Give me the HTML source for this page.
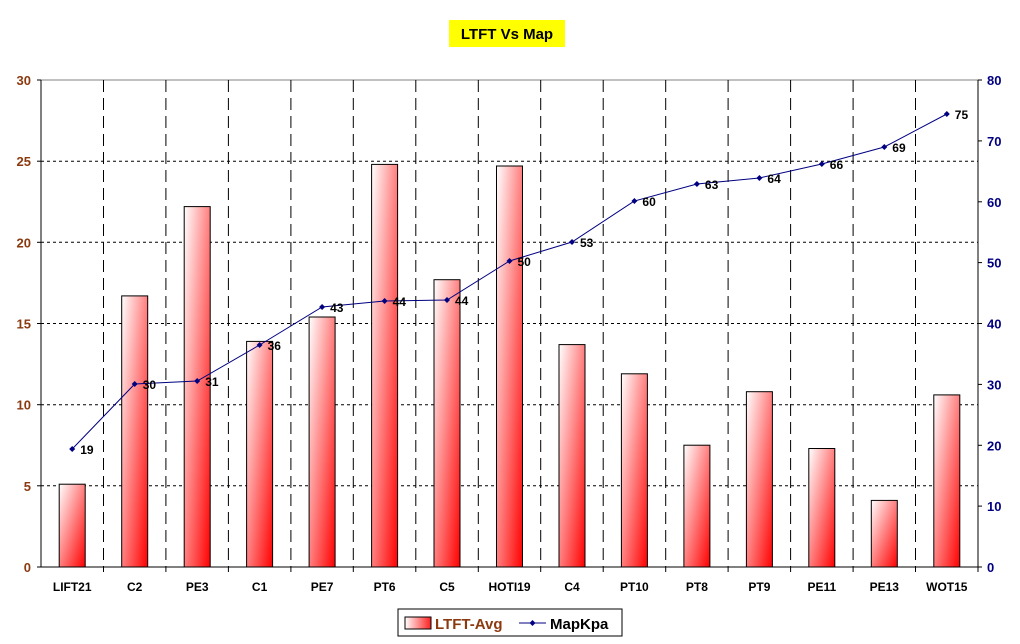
<!DOCTYPE html>
<html><head><meta charset="utf-8"><style>
body{margin:0;background:#fff;}
svg{display:block;font-family:"Liberation Sans",Arial,sans-serif;font-weight:bold;}
</style></head><body>
<svg width="1020" height="644" viewBox="0 0 1020 644" xmlns="http://www.w3.org/2000/svg">
<defs>
<linearGradient id="g" x1="0" y1="0" x2="1" y2="1">
<stop offset="0" stop-color="#ffffff"/><stop offset="1" stop-color="#ff0000"/>
</linearGradient>
<linearGradient id="gl" x1="0" y1="0" x2="1" y2="0">
<stop offset="0" stop-color="#ffffff"/><stop offset="1" stop-color="#ff2020"/>
</linearGradient>
</defs>
<rect x="449" y="20" width="116" height="27" fill="#ffff00"/>
<text x="507" y="39" font-size="15" text-anchor="middle" fill="#000">LTFT Vs Map</text>

<g stroke="#000" stroke-dasharray="3,3">
<line x1="41" y1="485.8" x2="978" y2="485.8"/>
<line x1="41" y1="404.7" x2="978" y2="404.7"/>
<line x1="41" y1="323.5" x2="978" y2="323.5"/>
<line x1="41" y1="242.3" x2="978" y2="242.3"/>
<line x1="41" y1="161.2" x2="978" y2="161.2"/>
</g>
<line x1="41" y1="80" x2="978" y2="80" stroke="#808080"/>
<g stroke="#000" stroke-dasharray="12,6">
<line x1="103.5" y1="80" x2="103.5" y2="567"/>
<line x1="165.9" y1="80" x2="165.9" y2="567"/>
<line x1="228.4" y1="80" x2="228.4" y2="567"/>
<line x1="290.9" y1="80" x2="290.9" y2="567"/>
<line x1="353.3" y1="80" x2="353.3" y2="567"/>
<line x1="415.8" y1="80" x2="415.8" y2="567"/>
<line x1="478.3" y1="80" x2="478.3" y2="567"/>
<line x1="540.7" y1="80" x2="540.7" y2="567"/>
<line x1="603.2" y1="80" x2="603.2" y2="567"/>
<line x1="665.7" y1="80" x2="665.7" y2="567"/>
<line x1="728.1" y1="80" x2="728.1" y2="567"/>
<line x1="790.6" y1="80" x2="790.6" y2="567"/>
<line x1="853.1" y1="80" x2="853.1" y2="567"/>
<line x1="915.5" y1="80" x2="915.5" y2="567"/>
</g>

<g fill="url(#g)" stroke="#000">
<rect x="59.2" y="484.2" width="26" height="82.8"/>
<rect x="121.7" y="295.9" width="26" height="271.1"/>
<rect x="184.2" y="206.6" width="26" height="360.4"/>
<rect x="246.6" y="341.4" width="26" height="225.6"/>
<rect x="309.1" y="317.0" width="26" height="250.0"/>
<rect x="371.6" y="164.4" width="26" height="402.6"/>
<rect x="434.0" y="279.7" width="26" height="287.3"/>
<rect x="496.5" y="166.0" width="26" height="401.0"/>
<rect x="559.0" y="344.6" width="26" height="222.4"/>
<rect x="621.4" y="373.8" width="26" height="193.2"/>
<rect x="683.9" y="445.2" width="26" height="121.8"/>
<rect x="746.4" y="391.7" width="26" height="175.3"/>
<rect x="808.8" y="448.5" width="26" height="118.5"/>
<rect x="871.3" y="500.4" width="26" height="66.6"/>
<rect x="933.8" y="394.9" width="26" height="172.1"/>
</g>

<g stroke="#000">
<line x1="41" y1="80" x2="41" y2="567"/>
<line x1="978" y1="80" x2="978" y2="567"/>
<line x1="37" y1="567" x2="978" y2="567"/>
<line x1="103.5" y1="567" x2="103.5" y2="572"/><line x1="165.9" y1="567" x2="165.9" y2="572"/>
<line x1="228.4" y1="567" x2="228.4" y2="572"/><line x1="290.9" y1="567" x2="290.9" y2="572"/>
<line x1="353.3" y1="567" x2="353.3" y2="572"/><line x1="415.8" y1="567" x2="415.8" y2="572"/>
<line x1="478.3" y1="567" x2="478.3" y2="572"/><line x1="540.7" y1="567" x2="540.7" y2="572"/>
<line x1="603.2" y1="567" x2="603.2" y2="572"/><line x1="665.7" y1="567" x2="665.7" y2="572"/>
<line x1="728.1" y1="567" x2="728.1" y2="572"/><line x1="790.6" y1="567" x2="790.6" y2="572"/>
<line x1="853.1" y1="567" x2="853.1" y2="572"/><line x1="915.5" y1="567" x2="915.5" y2="572"/>
<line x1="978" y1="567" x2="978" y2="572"/>
<line x1="37" y1="485.8" x2="41" y2="485.8"/><line x1="37" y1="404.7" x2="41" y2="404.7"/>
<line x1="37" y1="323.5" x2="41" y2="323.5"/><line x1="37" y1="242.3" x2="41" y2="242.3"/>
<line x1="37" y1="161.2" x2="41" y2="161.2"/><line x1="37" y1="80" x2="41" y2="80"/>
<line x1="978" y1="567" x2="982" y2="567"/><line x1="978" y1="506.1" x2="982" y2="506.1"/>
<line x1="978" y1="445.3" x2="982" y2="445.3"/><line x1="978" y1="384.4" x2="982" y2="384.4"/>
<line x1="978" y1="323.5" x2="982" y2="323.5"/><line x1="978" y1="262.6" x2="982" y2="262.6"/>
<line x1="978" y1="201.8" x2="982" y2="201.8"/><line x1="978" y1="140.9" x2="982" y2="140.9"/>
<line x1="978" y1="80" x2="982" y2="80"/>
</g>

<g font-size="13" text-anchor="end" fill="#8b3a0f">
<text x="31" y="572">0</text><text x="31" y="490.8">5</text><text x="31" y="409.7">10</text>
<text x="31" y="328.5">15</text><text x="31" y="247.3">20</text><text x="31" y="166.2">25</text>
<text x="31" y="85">30</text>
</g>
<g font-size="13" fill="#000080">
<text x="987" y="572">0</text><text x="987" y="511.1">10</text><text x="987" y="450.3">20</text>
<text x="987" y="389.4">30</text><text x="987" y="328.5">40</text><text x="987" y="267.6">50</text>
<text x="987" y="206.8">60</text><text x="987" y="145.9">70</text><text x="987" y="85">80</text>
</g>
<g font-size="12" text-anchor="middle" fill="#000">
<text x="72.2" y="591">LIFT21</text><text x="134.7" y="591">C2</text><text x="197.2" y="591">PE3</text>
<text x="259.6" y="591">C1</text><text x="322.1" y="591">PE7</text><text x="384.6" y="591">PT6</text>
<text x="447.0" y="591">C5</text><text x="509.5" y="591">HOTI19</text><text x="572.0" y="591">C4</text>
<text x="634.4" y="591">PT10</text><text x="696.9" y="591">PT8</text><text x="759.4" y="591">PT9</text>
<text x="821.8" y="591">PE11</text><text x="884.3" y="591">PE13</text><text x="946.8" y="591">WOT15</text>
</g>

<polyline fill="none" stroke="#000080" points="72.2,449 134.7,384 197.2,381 259.6,345 322.1,307 384.6,301 447.0,300 509.5,261 572.0,242 634.4,201 696.9,184 759.4,178 821.8,164 884.3,147 946.8,114"/>
<g fill="#000080">
<path d="M72.2 446l3 3-3 3-3-3z"/><path d="M134.7 381l3 3-3 3-3-3z"/><path d="M197.2 378l3 3-3 3-3-3z"/>
<path d="M259.6 342l3 3-3 3-3-3z"/><path d="M322.1 304l3 3-3 3-3-3z"/><path d="M384.6 298l3 3-3 3-3-3z"/>
<path d="M447.0 297l3 3-3 3-3-3z"/><path d="M509.5 258l3 3-3 3-3-3z"/><path d="M572.0 239l3 3-3 3-3-3z"/>
<path d="M634.4 198l3 3-3 3-3-3z"/><path d="M696.9 181l3 3-3 3-3-3z"/><path d="M759.4 175l3 3-3 3-3-3z"/>
<path d="M821.8 161l3 3-3 3-3-3z"/><path d="M884.3 144l3 3-3 3-3-3z"/><path d="M946.8 111l3 3-3 3-3-3z"/>
</g>
<g font-size="12" fill="#000">
<text x="80.2" y="454">19</text><text x="142.7" y="389">30</text><text x="205.2" y="386">31</text>
<text x="267.6" y="350">36</text><text x="330.1" y="312">43</text><text x="392.6" y="306">44</text>
<text x="455.0" y="305">44</text><text x="517.5" y="266">50</text><text x="580.0" y="247">53</text>
<text x="642.4" y="206">60</text><text x="704.9" y="189">63</text><text x="767.4" y="183">64</text>
<text x="829.8" y="169">66</text><text x="892.3" y="152">69</text><text x="954.8" y="119">75</text>
</g>

<rect x="398" y="609" width="224" height="27" fill="#fff" stroke="#000"/>
<rect x="405" y="617" width="26" height="12" fill="url(#gl)" stroke="#000"/>
<text x="435" y="629" font-size="15" fill="#8b3a0f">LTFT-Avg</text>
<line x1="519" y1="623" x2="546" y2="623" stroke="#000080"/>
<path d="M532.5 620 L535.5 623 L532.5 626 L529.5 623Z" fill="#000080"/>
<text x="550" y="629" font-size="15" fill="#000">MapKpa</text>
</svg>
</body></html>
